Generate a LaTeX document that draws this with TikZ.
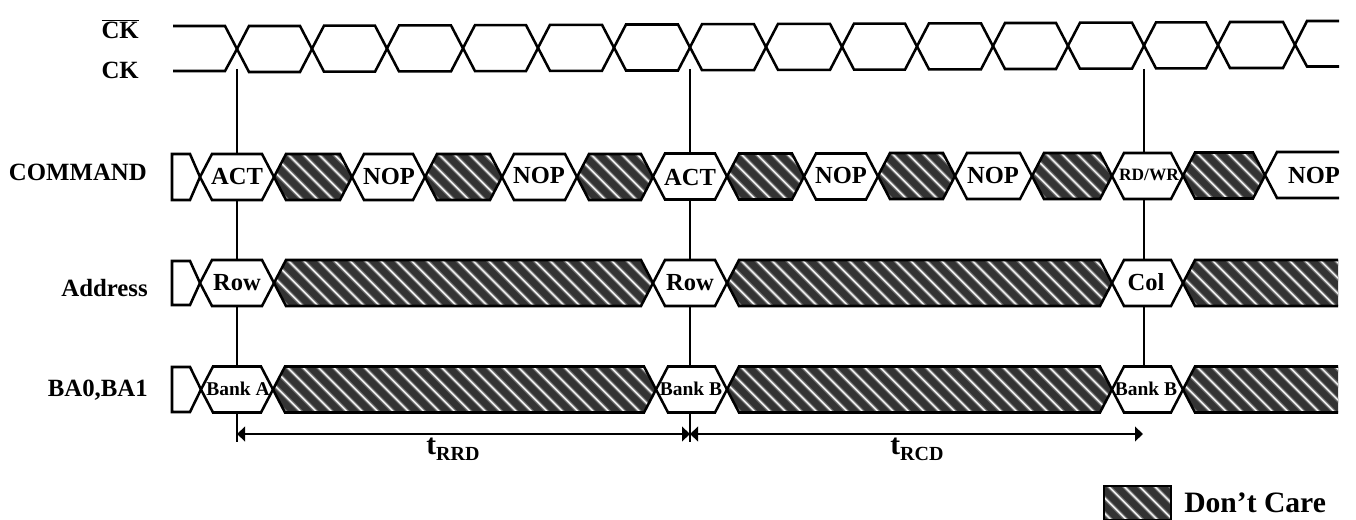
\documentclass[tikz,border=0pt]{standalone}
\usepackage{fontspec}
\setmainfont{Liberation Serif}
\usetikzlibrary{arrows.meta}

\definecolor{hatchdark}{HTML}{333333}

% outline of one bus slot: crossing to crossing, centred on y
\newcommand{\hexpath}[3]{(#1,#3) -- (#1+12,#3-23) -- (#2-12,#3-23) -- (#2,#3) -- (#2-12,#3+23) -- (#1+12,#3+23) -- cycle}
% same slot, running out of the picture on the right
\newcommand{\openpath}[3]{(#2,#3-23) -- (#1+12,#3-23) -- (#1,#3) -- (#1+12,#3+23) -- (#2,#3+23)}

% soft diagonal stripes, clipped by the path in #1
\newcommand{\stripes}[4]{%
  \begin{scope}
    \clip #1;
    \fill[hatchdark] (#2-20,#4-25) rectangle (#3+20,#4+25);
    \pgfmathtruncatemacro{\nstripes}{(#3-#2+60)/15.4}
    \foreach \k in {0,...,\nstripes} {
      \pgfmathsetmacro{\sx}{#2-50+15.4*\k}
      \draw[line width=3pt, color=gray!65!hatchdark] (\sx,#4-25) -- (\sx+50,#4+25);
      \draw[line width=1.5pt, color=gray!55!white] (\sx,#4-25) -- (\sx+50,#4+25);
      \draw[line width=0.6pt, color=white] (\sx,#4-25) -- (\sx+50,#4+25);
    }
  \end{scope}}
\newcommand{\dcslot}[3]{%
  \stripes{\hexpath{#1}{#2}{#3}}{#1}{#2}{#3}
  \draw[sigline] \hexpath{#1}{#2}{#3};}
\newcommand{\dcopen}[3]{%
  \stripes{\openpath{#1}{#2}{#3} -- cycle}{#1}{#2}{#3}
  \draw[sigline] \openpath{#1}{#2}{#3};}
\newcommand{\wslot}[3]{\draw[sigline, fill=white] \hexpath{#1}{#2}{#3};}

\tikzset{
  sigline/.style={line width=1.9pt, line join=miter},
  guide/.style={line width=1.1pt},
  span/.style={line width=1.1pt, arrows=<->, >={Triangle[length=6pt,width=11pt]}},
  rowlabel/.style={font=\fontsize{18.6}{20}\selectfont\bfseries, anchor=east, inner sep=0pt},
  slottext/.style={font=\fontsize{18.4}{20}\selectfont\bfseries, inner sep=0pt},
  banktext/.style={font=\fontsize{14.6}{16}\selectfont\bfseries, inner sep=0pt},
  timetext/.style={font=\fontsize{22}{24}\selectfont\bfseries, inner sep=0pt}
}

\begin{document}
\begin{tikzpicture}[x=0.75pt, y=-0.75pt]
  \useasboundingbox (0, 0) rectangle (1356, 520);

  % Anchors of the guide lines
  \coordinate (guideAtop) at (237, 69);
  \coordinate (guideAend) at (237, 442);
  \coordinate (guideBtop) at (690, 69);
  \coordinate (guideBend) at (690, 442);
  \coordinate (guideCtop) at (1144, 69);
  \coordinate (guideCend) at (1144, 370);
  \draw[guide] (guideAtop) -- (guideAend);
  \draw[guide] (guideBtop) -- (guideBend);
  \draw[guide] (guideCtop) -- (guideCend);

  % Clock pair
  \draw[sigline] (173, 26) -- (225, 26) -- (237, 49) -- (225, 71) -- (173, 71);
  \foreach \xa/\xb/\yc in {237/312/49, 312/387/48.7, 387/463/48.4, 463/538/48.1, 538/614/47.8,
      614/690/47.5, 690/766/47.2, 766/842/46.9, 842/917/46.6, 917/993/46.3,
      993/1068/46, 1068/1144/45.7, 1144/1218/45.4, 1218/1295/45}
    \draw[sigline] \hexpath{\xa}{\xb}{\yc};
  \draw[sigline] (1339, 21) -- (1307, 21) -- (1295, 44.5) -- (1307, 66.5) -- (1339, 66.5);

  % COMMAND row
  \draw[sigline, fill=white] (172, 154) -- (190, 154) -- (200, 177) -- (190, 200) -- (172, 200) -- cycle;
  \wslot{200}{274}{177}
  \dcslot{274}{352}{177}
  \wslot{352}{425}{177}
  \dcslot{425}{502}{177}
  \wslot{502}{577}{177}
  \dcslot{577}{653}{177}
  \wslot{653}{727}{176.5}
  \dcslot{727}{804}{176.5}
  \wslot{804}{878}{176.5}
  \dcslot{878}{955}{176}
  \wslot{955}{1032}{176}
  \dcslot{1032}{1112}{176}
  \wslot{1112}{1183}{176}
  \dcslot{1183}{1265}{175.5}
  \draw[sigline, fill=white] \openpath{1265}{1339}{175};

  % Address row
  \draw[sigline, fill=white] (172, 261) -- (190, 261) -- (200, 283) -- (190, 305) -- (172, 305) -- cycle;
  \wslot{200}{274}{283}
  \dcslot{274}{653}{283}
  \wslot{653}{727}{283}
  \dcslot{727}{1112}{283}
  \wslot{1112}{1183}{283}
  \dcopen{1183}{1338}{283}

  % BA0,BA1 row
  \draw[sigline, fill=white] (172, 367) -- (190, 367) -- (201, 389.5) -- (190, 412) -- (172, 412) -- cycle;
  \wslot{201}{273}{389.5}
  \dcslot{273}{656}{389.5}
  \wslot{656}{727}{389.5}
  \dcslot{727}{1112}{389.5}
  \wslot{1112}{1183}{389.5}
  \dcopen{1183}{1338}{389.5}

  % Row labels
  \node[rowlabel] (ckbar) at (139, 29) {$\overline{\mbox{CK}}$};
  \node[rowlabel] (ck) at (139, 70) {CK};
  \node[rowlabel] (command) at (147, 172) {COMMAND};
  \node[rowlabel] (address) at (148, 288) {Address};
  \node[rowlabel] (bank) at (148, 390) {BA0,BA1};

  % Slot labels
  \node[slottext] (cmdA) at (237, 176) {ACT};
  \node[slottext] (nopA) at (389, 176) {NOP};
  \node[slottext] (nopB) at (539, 175) {NOP};
  \node[slottext] (cmdB) at (690, 177) {ACT};
  \node[slottext] (nopC) at (841, 175) {NOP};
  \node[slottext] (nopD) at (993, 175) {NOP};
  \node[font=\fontsize{13}{15}\selectfont\bfseries, inner sep=0pt] (cmdC) at (1149, 175) {RD/WR};
  \node[slottext] (nopE) at (1314, 175) {NOP};
  \node[slottext] (rowA) at (237, 283) {Row};
  \node[slottext] (rowB) at (690, 283) {Row};
  \node[slottext] (colA) at (1146, 282) {Col};
  \node[banktext] (bankA) at (238, 389) {Bank A};
  \node[banktext] (bankB) at (691, 389) {Bank B};
  \node[banktext] (bankC) at (1146, 389) {Bank B};

  % Timing spans
  \coordinate (spanA) at (237, 434);
  \coordinate (spanB) at (690, 434);
  \coordinate (spanC) at (1143, 434);
  \draw[span] (spanA) -- (spanB);
  \draw[span] (spanB) -- (spanC);
  \node[timetext] (trrd) at (453, 449) {t\raisebox{-0.2em}{\fontsize{15}{16}\selectfont RRD}};
  \node[timetext] (trcd) at (917, 449) {t\raisebox{-0.2em}{\fontsize{15}{16}\selectfont RCD}};

  % Legend
  \stripes{(1104, 486) rectangle (1171, 520)}{1104}{1171}{503}
  \draw[sigline] (1104, 486) rectangle (1171, 520);
  \node[font=\fontsize{22.2}{24}\selectfont\bfseries, anchor=west, inner sep=0pt] (care) at (1184, 503) {Don’t Care};
\end{tikzpicture}
\end{document}
